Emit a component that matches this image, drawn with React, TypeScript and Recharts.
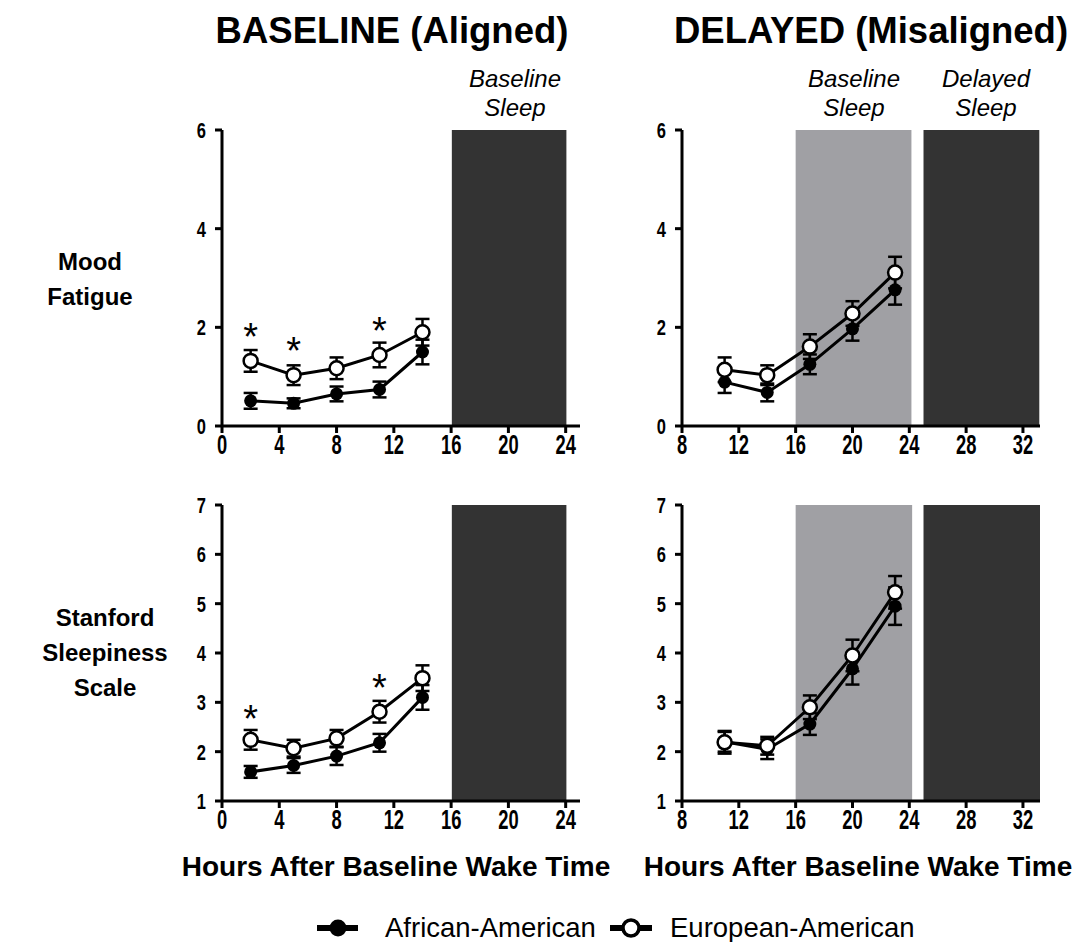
import React from "react";
import {
  ComposedChart,
  Line,
  XAxis,
  YAxis,
  ErrorBar,
  ReferenceArea,
  ReferenceDot,
} from "recharts";

// hours after baseline wake
const baselineHours = [2, 5, 8, 11, 14];
const delayedHours = [11, 14, 17, 20, 23];

// Mood fatigue, baseline
const fatigueBaseAA = [0.51, 0.46, 0.65, 0.74, 1.5];
const fatigueBaseAAErr = [0.16, 0.1, 0.15, 0.16, 0.25];
const fatigueBaseEA = [1.32, 1.03, 1.17, 1.44, 1.9];
const fatigueBaseEAErr = [0.22, 0.2, 0.22, 0.25, 0.27];

// Mood fatigue, delayed
const fatigueDelAA = [0.89, 0.68, 1.25, 1.97, 2.76];
const fatigueDelAAErr = [0.22, 0.18, 0.2, 0.24, 0.3];
const fatigueDelEA = [1.14, 1.03, 1.61, 2.28, 3.11];
const fatigueDelEAErr = [0.25, 0.2, 0.25, 0.25, 0.32];

// Stanford sleepiness, baseline
const sssBaseAA = [1.59, 1.72, 1.91, 2.18, 3.1];
const sssBaseAAErr = [0.12, 0.15, 0.18, 0.18, 0.25];
const sssBaseEA = [2.24, 2.07, 2.27, 2.81, 3.49];
const sssBaseEAErr = [0.2, 0.17, 0.17, 0.22, 0.26];

// Stanford sleepiness, delayed
const sssDelAA = [2.2, 2.05, 2.56, 3.68, 4.95];
const sssDelAAErr = [0.2, 0.2, 0.22, 0.32, 0.38];
const sssDelEA = [2.19, 2.12, 2.9, 3.95, 5.23];
const sssDelEAErr = [0.23, 0.18, 0.24, 0.32, 0.33];

// significance markers [hour, height]
const fatigueStars = [
  [2, 1.99],
  [5, 1.7],
  [11, 2.11],
];
const sssStars = [
  [2, 2.84],
  [11, 3.47],
];

const baselineTicks = [0, 4, 8, 12, 16, 20, 24];
const delayedTicks = [8, 12, 16, 20, 24, 28, 32];
const fatigueTicks = [0, 2, 4, 6];
const sssTicks = [1, 2, 3, 4, 5, 6, 7];

const FONT = "'Liberation Sans', Arial, sans-serif";

function buildRows(hours, aa, aaErr, ea, eaErr) {
  return hours.map((h, i) => ({
    x: h,
    aa: aa[i],
    aaErr: aaErr[i],
    ea: ea[i],
    eaErr: eaErr[i],
  }));
}

const FilledDot = (props) => {
  const { cx, cy } = props;
  if (cx == null || cy == null) return null;
  return <circle cx={cx} cy={cy} r={6.5} fill="#000" stroke="none" />;
};

const OpenDot = (props) => {
  const { cx, cy } = props;
  if (cx == null || cy == null) return null;
  return <circle cx={cx} cy={cy} r={7} fill="#fff" stroke="#000" strokeWidth={2.5} />;
};

const Star = (props) => {
  const { cx, cy } = props;
  return (
    <text x={cx} y={cy + 22} textAnchor="middle" fontSize={38} fontFamily={FONT} fill="#000">
      *
    </text>
  );
};

// tick labels in the original are tall and narrow
const XTick = (props) => {
  const { x, y, payload } = props;
  return (
    <g transform={`translate(${x},${y})`}>
      <text
        transform="scale(0.68,1)"
        textAnchor="middle"
        dy="0.71em"
        fontSize={27}
        fontWeight="bold"
        fontFamily={FONT}
        fill="#000"
      >
        {payload.value}
      </text>
    </g>
  );
};

const YTick = (props) => {
  const { x, y, payload } = props;
  return (
    <g transform={`translate(${x},${y})`}>
      <text
        transform="scale(0.75,1)"
        textAnchor="end"
        dy="0.36em"
        fontSize={22}
        fontWeight="bold"
        fontFamily={FONT}
        fill="#000"
      >
        {payload.value}
      </text>
    </g>
  );
};

function Panel({ left, top, rows, xDomain, xTicks, yDomain, yTicks, light, dark, stars }) {
  return (
    <div style={{ position: "absolute", left, top }}>
      <ComposedChart
        width={428}
        height={356}
        data={rows}
        margin={{ top: 20, right: 10, bottom: 0, left: 0 }}
      >
        <XAxis
          dataKey="x"
          type="number"
          domain={xDomain}
          ticks={xTicks}
          allowDataOverflow
          height={40}
          axisLine={{ stroke: "#000", strokeWidth: 3 }}
          tickLine={{ stroke: "#000", strokeWidth: 3 }}
          tickSize={7}
          tickMargin={2}
          tick={<XTick />}
        />
        <YAxis
          type="number"
          domain={yDomain}
          ticks={yTicks}
          allowDataOverflow
          width={60}
          axisLine={{ stroke: "#000", strokeWidth: 3 }}
          tickLine={{ stroke: "#000", strokeWidth: 3 }}
          tickSize={7}
          tickMargin={9}
          tick={<YTick />}
        />
        {light && (
          <ReferenceArea
            x1={light[0]}
            x2={light[1]}
            y1={yDomain[0]}
            y2={yDomain[1]}
            fill="#a0a0a4"
            fillOpacity={1}
            stroke="none"
          />
        )}
        <ReferenceArea
          x1={dark[0]}
          x2={dark[1]}
          y1={yDomain[0]}
          y2={yDomain[1]}
          fill="#333333"
          fillOpacity={1}
          stroke="none"
        />
        <Line
          dataKey="aa"
          stroke="#000"
          strokeWidth={3}
          dot={<FilledDot />}
          activeDot={false}
          isAnimationActive={false}
          type="linear"
        >
          <ErrorBar dataKey="aaErr" width={7} strokeWidth={2.5} stroke="#000" direction="y" />
        </Line>
        <Line
          dataKey="ea"
          stroke="#000"
          strokeWidth={3}
          dot={<OpenDot />}
          activeDot={false}
          isAnimationActive={false}
          type="linear"
        >
          <ErrorBar dataKey="eaErr" width={7} strokeWidth={2.5} stroke="#000" direction="y" />
        </Line>
        {stars.map(([sx, sy], i) => (
          <ReferenceDot key={i} x={sx} y={sy} r={1} shape={<Star />} />
        ))}
      </ComposedChart>
    </div>
  );
}

export default function App() {
  const boldText = { fontFamily: FONT, fontWeight: "bold", fill: "#000" };
  const italicText = { fontFamily: FONT, fontStyle: "italic", fill: "#000", fontSize: 24 };
  return (
    <div
      style={{
        position: "absolute",
        left: 0,
        top: 0,
        width: 1091,
        height: 942,
        background: "#fff",
        overflow: "hidden",
      }}
    >
      <Panel
        left={162}
        top={110}
        rows={buildRows(baselineHours, fatigueBaseAA, fatigueBaseAAErr, fatigueBaseEA, fatigueBaseEAErr)}
        xDomain={[0, 25]}
        xTicks={baselineTicks}
        yDomain={[0, 6]}
        yTicks={fatigueTicks}
        light={null}
        dark={[16.05, 24.05]}
        stars={fatigueStars}
      />
      <Panel
        left={622}
        top={110}
        rows={buildRows(delayedHours, fatigueDelAA, fatigueDelAAErr, fatigueDelEA, fatigueDelEAErr)}
        xDomain={[8, 33.2]}
        xTicks={delayedTicks}
        yDomain={[0, 6]}
        yTicks={fatigueTicks}
        light={[16, 24.15]}
        dark={[25, 33.15]}
        stars={[]}
      />
      <Panel
        left={162}
        top={485}
        rows={buildRows(baselineHours, sssBaseAA, sssBaseAAErr, sssBaseEA, sssBaseEAErr)}
        xDomain={[0, 25]}
        xTicks={baselineTicks}
        yDomain={[1, 7]}
        yTicks={sssTicks}
        light={null}
        dark={[16.05, 24.05]}
        stars={sssStars}
      />
      <Panel
        left={622}
        top={485}
        rows={buildRows(delayedHours, sssDelAA, sssDelAAErr, sssDelEA, sssDelEAErr)}
        xDomain={[8, 33.2]}
        xTicks={delayedTicks}
        yDomain={[1, 7]}
        yTicks={sssTicks}
        light={[16, 24.2]}
        dark={[25, 33.2]}
        stars={[]}
      />
      <svg
        width={1091}
        height={942}
        style={{ position: "absolute", left: 0, top: 0, pointerEvents: "none" }}
      >
        <text x={392} y={43} textAnchor="middle" fontSize={36.5} {...boldText}>
          BASELINE (Aligned)
        </text>
        <text x={871} y={43} textAnchor="middle" fontSize={36.5} {...boldText}>
          DELAYED (Misaligned)
        </text>

        <text x={515} y={87} textAnchor="middle" {...italicText}>Baseline</text>
        <text x={515} y={116} textAnchor="middle" {...italicText}>Sleep</text>
        <text x={854} y={87} textAnchor="middle" {...italicText}>Baseline</text>
        <text x={854} y={116} textAnchor="middle" {...italicText}>Sleep</text>
        <text x={986} y={87} textAnchor="middle" {...italicText}>Delayed</text>
        <text x={986} y={116} textAnchor="middle" {...italicText}>Sleep</text>

        <text x={90} y={270} textAnchor="middle" fontSize={24} {...boldText}>Mood</text>
        <text x={90} y={305} textAnchor="middle" fontSize={24} {...boldText}>Fatigue</text>
        <text x={105} y={626} textAnchor="middle" fontSize={24} {...boldText}>Stanford</text>
        <text x={105} y={661} textAnchor="middle" fontSize={24} {...boldText}>Sleepiness</text>
        <text x={105} y={696} textAnchor="middle" fontSize={24} {...boldText}>Scale</text>

        <text x={396} y={876} textAnchor="middle" fontSize={28} {...boldText}>
          Hours After Baseline Wake Time
        </text>
        <text x={858} y={876} textAnchor="middle" fontSize={28} {...boldText}>
          Hours After Baseline Wake Time
        </text>

        <line x1={317} y1={928} x2={358} y2={928} stroke="#000" strokeWidth={6} />
        <circle cx={338} cy={928} r={8.5} fill="#000" />
        <text x={385} y={937} fontSize={27.5} fontFamily={FONT} fill="#000">
          African-American
        </text>
        <line x1={610} y1={928} x2={652} y2={928} stroke="#000" strokeWidth={6} />
        <circle cx={631} cy={928} r={8} fill="#fff" stroke="#000" strokeWidth={3.5} />
        <text x={670} y={937} fontSize={27.5} fontFamily={FONT} fill="#000">
          European-American
        </text>
      </svg>
    </div>
  );
}
